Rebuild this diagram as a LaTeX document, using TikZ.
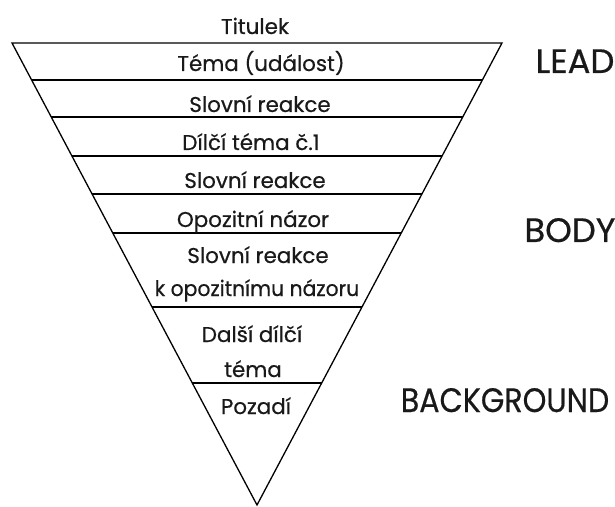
\documentclass[tikz,border=0pt]{standalone}
\usepackage{fontspec}
\setmainfont{Poppins}[FakeBold=0.5]
\usetikzlibrary{calc}
\begin{document}
\begin{tikzpicture}[x=1bp,y=-1bp,
  band/.style={line width=1.3bp,black},
  txt/.style={anchor=base,inner sep=0pt,text=black!90,font=\fontsize{21.5}{26}\selectfont},
  side/.style={anchor=base,inner sep=0pt,text=black!90,font=\fontsize{34}{40}\selectfont}]
\useasboundingbox (0,0) rectangle (615,507);
\coordinate (L) at (12,43);
\coordinate (R) at (502,43);
\coordinate (A) at (257,505);
\draw[band,line join=miter] (L) -- (R) -- (A) -- cycle;
\foreach \t in {0.0801,0.1602,0.2446,0.3268,0.4113,0.5714,0.7359}{
  \draw[band] ($(L)!\t!(A)$) -- ($(R)!\t!(A)$);
}
\node[txt] (t0) at (255,34) {Titulek};
\node[txt] (t1) at (261,71) {Téma (událost)};
\node[txt] (t2) at (260,112) {Slovní reakce};
\node[txt] (t3) at (251,150) {Dílčí téma č.1};
\node[txt] (t4) at (255,188) {Slovní reakce};
\node[txt] (t5) at (253,227) {Opozitní názor};
\node[txt] (t6) at (258,263) {Slovní reakce};
\node[txt,xscale=0.95,transform shape] (t7) at (257,296) {k opozitnímu názoru};
\node[txt] (t8) at (252,342) {Další dílčí};
\node[txt] (t9) at (253,377) {téma};
\node[txt] (t10) at (256,414) {Pozadí};
\node[side] (lead) at (575,73) {LEAD};
\node[side] (body) at (570,242) {BODY};
\node[side,xscale=0.89,transform shape] (bg) at (505,412) {BACKGROUND};
\end{tikzpicture}
\end{document}
